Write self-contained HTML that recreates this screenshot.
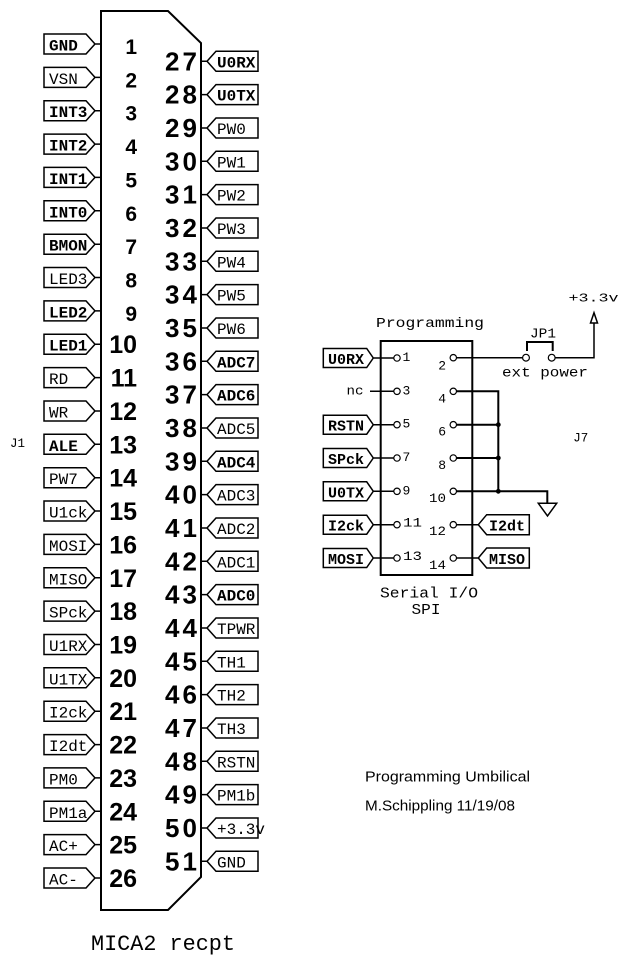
<!DOCTYPE html>
<html><head><meta charset="utf-8"><style>
html,body{margin:0;padding:0;background:#fff}
svg{display:block}
</style></head><body>
<svg width="629" height="970" viewBox="0 0 629 970" xmlns="http://www.w3.org/2000/svg">
<style>
.s{fill:none;stroke:#000;stroke-width:1.5}
.w{fill:none;stroke:#000;stroke-width:2}
text{fill:#000}
.l{font-family:"Liberation Mono",monospace;font-size:16px}
.b{font-weight:bold}
.nA{font-family:"Liberation Sans",sans-serif;font-weight:bold;font-size:21px;text-anchor:end}
.nB{font-family:"Liberation Sans",sans-serif;font-weight:bold;font-size:25px;text-anchor:end}
.nR{font-family:"Liberation Sans",sans-serif;font-weight:bold;font-size:26px}
.p{font-family:"Liberation Mono",monospace;font-size:15px}
.pn{font-family:"Liberation Mono",monospace;font-size:13px}
.sans{font-family:"Liberation Sans",sans-serif;font-size:15px}
</style>
<defs>
<path id="lb" class="s" d="M44,-10 H86 L95,0 L86,10 H44 Z M95,0 H101"/>
<path id="rb" class="s" d="M201,0 H207 M207,0 L216,-10 H258 V10 H216 Z"/>
<path id="pl" class="s" d="M323.3,-9.5 H366.7 L373.3,0 L366.7,9.5 H323.3 Z M373.3,0 H393.7"/>
<path id="pr" class="s" d="M478.3,0 L486.7,-10 H529.3 V10 H486.7 Z M456.5,0 H478.3"/>
</defs>
<rect width="629" height="970" fill="#fff"/>

<!-- main connector body -->
<path class="w" d="M101,11 H168 L201,43 V877 L168,910 H101 Z"/>

<!-- left pins -->
<g transform="translate(0,44)"><use href="#lb"/><text x="49" y="6.5" class="l b">GND</text><text x="137" y="10" class="nA">1</text></g>
<g transform="translate(0,77.4)"><use href="#lb"/><text x="49" y="6.5" class="l">VSN</text><text x="137" y="10" class="nA">2</text></g>
<g transform="translate(0,110.7)"><use href="#lb"/><text x="49" y="6.5" class="l b">INT3</text><text x="137" y="10" class="nA">3</text></g>
<g transform="translate(0,144.1)"><use href="#lb"/><text x="49" y="6.5" class="l b">INT2</text><text x="137" y="10" class="nA">4</text></g>
<g transform="translate(0,177.4)"><use href="#lb"/><text x="49" y="6.5" class="l b">INT1</text><text x="137" y="10" class="nA">5</text></g>
<g transform="translate(0,210.8)"><use href="#lb"/><text x="49" y="6.5" class="l b">INT0</text><text x="137" y="10" class="nA">6</text></g>
<g transform="translate(0,244.2)"><use href="#lb"/><text x="49" y="6.5" class="l b">BMON</text><text x="137" y="10" class="nA">7</text></g>
<g transform="translate(0,277.5)"><use href="#lb"/><text x="49" y="6.5" class="l">LED3</text><text x="137" y="10" class="nA">8</text></g>
<g transform="translate(0,310.9)"><use href="#lb"/><text x="49" y="6.5" class="l b">LED2</text><text x="137" y="10" class="nA">9</text></g>
<g transform="translate(0,344.2)"><use href="#lb"/><text x="49" y="6.5" class="l b">LED1</text><text x="137" y="9" class="nB">10</text></g>
<g transform="translate(0,377.6)"><use href="#lb"/><text x="49" y="6.5" class="l">RD</text><text x="137" y="9" class="nB">11</text></g>
<g transform="translate(0,411)"><use href="#lb"/><text x="49" y="6.5" class="l">WR</text><text x="137" y="9" class="nB">12</text></g>
<g transform="translate(0,444.3)"><use href="#lb"/><text x="49" y="6.5" class="l b">ALE</text><text x="137" y="9" class="nB">13</text></g>
<g transform="translate(0,477.7)"><use href="#lb"/><text x="49" y="6.5" class="l">PW7</text><text x="137" y="9" class="nB">14</text></g>
<g transform="translate(0,511)"><use href="#lb"/><text x="49" y="6.5" class="l">U1ck</text><text x="137" y="9" class="nB">15</text></g>
<g transform="translate(0,544.4)"><use href="#lb"/><text x="49" y="6.5" class="l">MOSI</text><text x="137" y="9" class="nB">16</text></g>
<g transform="translate(0,577.8)"><use href="#lb"/><text x="49" y="6.5" class="l">MISO</text><text x="137" y="9" class="nB">17</text></g>
<g transform="translate(0,611.1)"><use href="#lb"/><text x="49" y="6.5" class="l">SPck</text><text x="137" y="9" class="nB">18</text></g>
<g transform="translate(0,644.5)"><use href="#lb"/><text x="49" y="6.5" class="l">U1RX</text><text x="137" y="9" class="nB">19</text></g>
<g transform="translate(0,677.8)"><use href="#lb"/><text x="49" y="6.5" class="l">U1TX</text><text x="137" y="9" class="nB">20</text></g>
<g transform="translate(0,711.2)"><use href="#lb"/><text x="49" y="6.5" class="l">I2ck</text><text x="137" y="9" class="nB">21</text></g>
<g transform="translate(0,744.6)"><use href="#lb"/><text x="49" y="6.5" class="l">I2dt</text><text x="137" y="9" class="nB">22</text></g>
<g transform="translate(0,777.9)"><use href="#lb"/><text x="49" y="6.5" class="l">PM0</text><text x="137" y="9" class="nB">23</text></g>
<g transform="translate(0,811.3)"><use href="#lb"/><text x="49" y="6.5" class="l">PM1a</text><text x="137" y="9" class="nB">24</text></g>
<g transform="translate(0,844.6)"><use href="#lb"/><text x="49" y="6.5" class="l">AC+</text><text x="137" y="9" class="nB">25</text></g>
<g transform="translate(0,878)"><use href="#lb"/><text x="49" y="6.5" class="l">AC-</text><text x="137" y="9" class="nB">26</text></g>

<!-- right pins -->
<g transform="translate(0,61.3)"><use href="#rb"/><text x="217" y="6" class="l b">U0RX</text><text x="165" y="9" class="nR" textLength="32">27</text></g>
<g transform="translate(0,94.6)"><use href="#rb"/><text x="217" y="6" class="l b">U0TX</text><text x="165" y="9" class="nR" textLength="32">28</text></g>
<g transform="translate(0,128)"><use href="#rb"/><text x="217" y="6" class="l">PW0</text><text x="165" y="9" class="nR" textLength="32">29</text></g>
<g transform="translate(0,161.3)"><use href="#rb"/><text x="217" y="6" class="l">PW1</text><text x="165" y="9" class="nR" textLength="32">30</text></g>
<g transform="translate(0,194.6)"><use href="#rb"/><text x="217" y="6" class="l">PW2</text><text x="165" y="9" class="nR" textLength="32">31</text></g>
<g transform="translate(0,228)"><use href="#rb"/><text x="217" y="6" class="l">PW3</text><text x="165" y="9" class="nR" textLength="32">32</text></g>
<g transform="translate(0,261.3)"><use href="#rb"/><text x="217" y="6" class="l">PW4</text><text x="165" y="9" class="nR" textLength="32">33</text></g>
<g transform="translate(0,294.6)"><use href="#rb"/><text x="217" y="6" class="l">PW5</text><text x="165" y="9" class="nR" textLength="32">34</text></g>
<g transform="translate(0,328)"><use href="#rb"/><text x="217" y="6" class="l">PW6</text><text x="165" y="9" class="nR" textLength="32">35</text></g>
<g transform="translate(0,361.3)"><use href="#rb"/><text x="217" y="6" class="l b">ADC7</text><text x="165" y="9" class="nR" textLength="32">36</text></g>
<g transform="translate(0,394.6)"><use href="#rb"/><text x="217" y="6" class="l b">ADC6</text><text x="165" y="9" class="nR" textLength="32">37</text></g>
<g transform="translate(0,428)"><use href="#rb"/><text x="217" y="6" class="l">ADC5</text><text x="165" y="9" class="nR" textLength="32">38</text></g>
<g transform="translate(0,461.3)"><use href="#rb"/><text x="217" y="6" class="l b">ADC4</text><text x="165" y="9" class="nR" textLength="32">39</text></g>
<g transform="translate(0,494.6)"><use href="#rb"/><text x="217" y="6" class="l">ADC3</text><text x="165" y="9" class="nR" textLength="32">40</text></g>
<g transform="translate(0,528)"><use href="#rb"/><text x="217" y="6" class="l">ADC2</text><text x="165" y="9" class="nR" textLength="32">41</text></g>
<g transform="translate(0,561.3)"><use href="#rb"/><text x="217" y="6" class="l">ADC1</text><text x="165" y="9" class="nR" textLength="32">42</text></g>
<g transform="translate(0,594.6)"><use href="#rb"/><text x="217" y="6" class="l b">ADC0</text><text x="165" y="9" class="nR" textLength="32">43</text></g>
<g transform="translate(0,628)"><use href="#rb"/><text x="217" y="6" class="l">TPWR</text><text x="165" y="9" class="nR" textLength="32">44</text></g>
<g transform="translate(0,661.3)"><use href="#rb"/><text x="217" y="6" class="l">TH1</text><text x="165" y="9" class="nR" textLength="32">45</text></g>
<g transform="translate(0,694.6)"><use href="#rb"/><text x="217" y="6" class="l">TH2</text><text x="165" y="9" class="nR" textLength="32">46</text></g>
<g transform="translate(0,728)"><use href="#rb"/><text x="217" y="6" class="l">TH3</text><text x="165" y="9" class="nR" textLength="32">47</text></g>
<g transform="translate(0,761.3)"><use href="#rb"/><text x="217" y="6" class="l">RSTN</text><text x="165" y="9" class="nR" textLength="32">48</text></g>
<g transform="translate(0,794.6)"><use href="#rb"/><text x="217" y="6" class="l">PM1b</text><text x="165" y="9" class="nR" textLength="32">49</text></g>
<g transform="translate(0,828)"><use href="#rb"/><text x="217" y="6" class="l">+3.3v</text><text x="165" y="9" class="nR" textLength="32">50</text></g>
<g transform="translate(0,861.3)"><use href="#rb"/><text x="217" y="6" class="l">GND</text><text x="165" y="9" class="nR" textLength="32">51</text></g>

<text x="10" y="447" class="pn" textLength="15" lengthAdjust="spacingAndGlyphs">J1</text>
<text x="91" y="950" style="font-family:'Liberation Mono',monospace;font-size:22px" textLength="144" lengthAdjust="spacingAndGlyphs">MICA2 recpt</text>

<!-- Programming connector -->
<text x="376" y="327" class="p" style="font-size:14px" textLength="108" lengthAdjust="spacingAndGlyphs">Programming</text>
<rect x="380.7" y="341" width="91.6" height="234" class="w"/>

<!-- left side -->
<g transform="translate(0,358)"><use href="#pl"/><circle cx="397" cy="0" r="3.2" class="s" style="stroke-width:1.2"/><text x="328" y="6" class="p b">U0RX</text><text x="402.5" y="3" class="pn">1</text></g>
<g transform="translate(0,391.3)"><path class="s" d="M370,0 H393.7"/><circle cx="397" cy="0" r="3.2" class="s" style="stroke-width:1.2"/><text x="346.5" y="3" class="pn" textLength="17" lengthAdjust="spacingAndGlyphs">nc</text><text x="402.5" y="3" class="pn">3</text></g>
<g transform="translate(0,424.7)"><use href="#pl"/><circle cx="397" cy="0" r="3.2" class="s" style="stroke-width:1.2"/><text x="328" y="6" class="p b">RSTN</text><text x="402.5" y="3" class="pn">5</text></g>
<g transform="translate(0,458)"><use href="#pl"/><circle cx="397" cy="0" r="3.2" class="s" style="stroke-width:1.2"/><text x="328" y="6" class="p b">SPck</text><text x="402.5" y="3" class="pn">7</text></g>
<g transform="translate(0,491.3)"><use href="#pl"/><circle cx="397" cy="0" r="3.2" class="s" style="stroke-width:1.2"/><text x="328" y="6" class="p b">U0TX</text><text x="402.5" y="3" class="pn">9</text></g>
<g transform="translate(0,524.7)"><use href="#pl"/><circle cx="397" cy="0" r="3.2" class="s" style="stroke-width:1.2"/><text x="328" y="6" class="p b">I2ck</text><text x="403" y="2" class="pn" textLength="19" lengthAdjust="spacingAndGlyphs">11</text></g>
<g transform="translate(0,558)"><use href="#pl"/><circle cx="397" cy="0" r="3.2" class="s" style="stroke-width:1.2"/><text x="328" y="6" class="p b">MOSI</text><text x="403" y="2" class="pn" textLength="19" lengthAdjust="spacingAndGlyphs">13</text></g>

<!-- right side circles & numbers -->
<g transform="translate(0,357.7)"><circle cx="453.3" cy="0" r="3.2" class="s" style="stroke-width:1.2"/><text x="446" y="12" class="pn" text-anchor="end">2</text></g>
<g transform="translate(0,391.3)"><circle cx="453.3" cy="0" r="3.2" class="s" style="stroke-width:1.2"/><text x="446" y="11" class="pn" text-anchor="end">4</text></g>
<g transform="translate(0,424.7)"><circle cx="453.3" cy="0" r="3.2" class="s" style="stroke-width:1.2"/><text x="446" y="11" class="pn" text-anchor="end">6</text></g>
<g transform="translate(0,458)"><circle cx="453.3" cy="0" r="3.2" class="s" style="stroke-width:1.2"/><text x="446" y="11" class="pn" text-anchor="end">8</text></g>
<g transform="translate(0,491.3)"><circle cx="453.3" cy="0" r="3.2" class="s" style="stroke-width:1.2"/><text x="429" y="10.5" class="pn" textLength="17" lengthAdjust="spacingAndGlyphs">10</text></g>
<g transform="translate(0,524.7)"><circle cx="453.3" cy="0" r="3.2" class="s" style="stroke-width:1.2"/><text x="429" y="10.5" class="pn" textLength="17" lengthAdjust="spacingAndGlyphs">12</text>
  <use href="#pr"/><text x="489" y="6" class="p b">I2dt</text></g>
<g transform="translate(0,558)"><circle cx="453.3" cy="0" r="3.2" class="s" style="stroke-width:1.2"/><text x="429" y="11" class="pn" textLength="17" lengthAdjust="spacingAndGlyphs">14</text>
  <use href="#pr"/><text x="489" y="6" class="p b">MISO</text></g>

<!-- pin 2 to JP1 -->
<path class="s" d="M456.5,357.7 H522.5"/>
<circle cx="526" cy="357.7" r="3.4" class="s" style="stroke-width:1.2"/>
<circle cx="551.7" cy="357.7" r="3.4" class="s" style="stroke-width:1.2"/>
<path class="w" d="M527,351 V342 H552.7 V351"/>
<text x="530" y="337.5" class="pn" style="font-size:14px" textLength="26" lengthAdjust="spacingAndGlyphs">JP1</text>
<text x="502" y="376.7" class="pn" style="font-size:14px" textLength="86" lengthAdjust="spacingAndGlyphs">ext power</text>
<path class="s" d="M555.1,357.7 H594 V323"/>
<path class="s" d="M590.5,323 L594,312.7 L597.5,323 Z"/>
<text x="568.5" y="301.7" class="pn" style="font-size:12px" textLength="50" lengthAdjust="spacingAndGlyphs">+3.3v</text>

<!-- ground bus -->
<path class="w" d="M456.5,391.3 H498.3 V491.3 M456.5,424.7 H498.3 M456.5,458 H498.3 M456.5,491.3 H547.3 V503.3"/>
<circle cx="498.3" cy="424.7" r="2.4"/>
<circle cx="498.3" cy="458" r="2.4"/>
<circle cx="498.3" cy="491.3" r="2.4"/>
<path class="s" d="M538.3,503.3 H556.7 L547.5,516 Z"/>

<text x="573.3" y="441.7" class="pn" textLength="15" lengthAdjust="spacingAndGlyphs">J7</text>

<text x="380" y="597.3" class="p" textLength="98" lengthAdjust="spacingAndGlyphs">Serial I/O</text>
<text x="411.5" y="614" class="p" textLength="29" lengthAdjust="spacingAndGlyphs">SPI</text>

<text x="365" y="781.5" class="sans" textLength="165" lengthAdjust="spacingAndGlyphs">Programming Umbilical</text>
<text x="365" y="810.7" class="sans" textLength="150" lengthAdjust="spacingAndGlyphs">M.Schippling 11/19/08</text>
</svg>
</body></html>
